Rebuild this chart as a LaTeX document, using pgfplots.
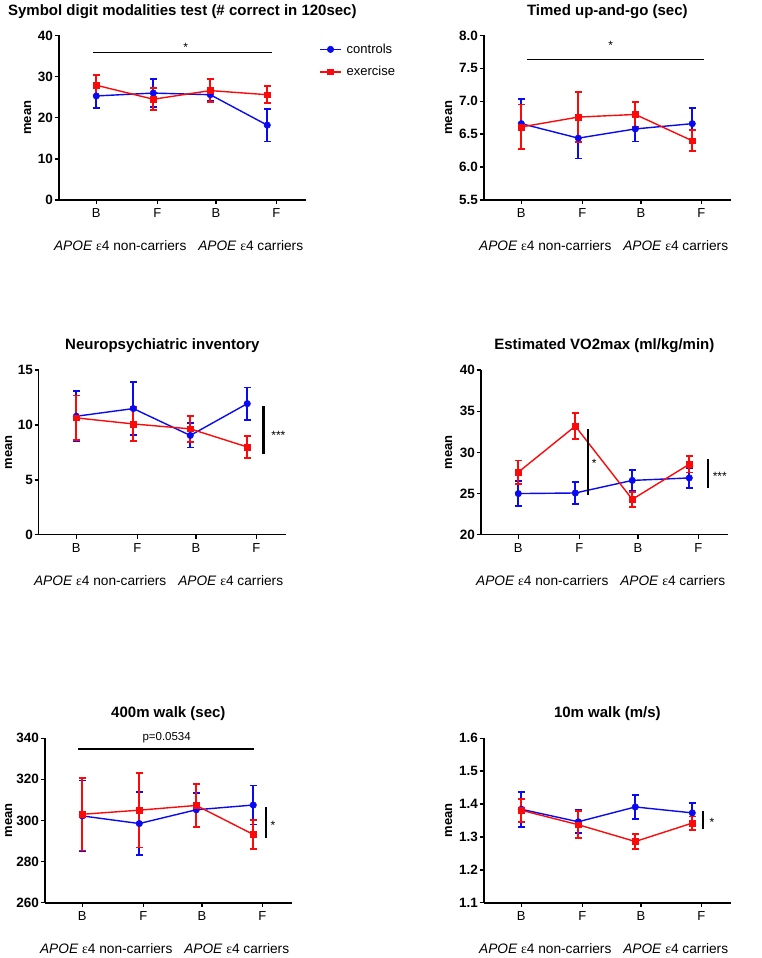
\documentclass[border=0pt]{standalone}
\usepackage{fontspec}
\setmainfont{Liberation Sans}
\newfontfamily\grk{Liberation Serif}
\usepackage{pgfplots}
\pgfplotsset{compat=1.18}

\definecolor{ctrl}{RGB}{10,10,240}
\definecolor{exer}{RGB}{250,10,10}

\pgfplotsset{
  panel/.style={
    scale only axis, width=247.3pt, height=164.5pt, anchor=south west,
    axis lines*=left, axis line style={line width=1.6pt},
    xmin=-0.66, xmax=3.68,
    xtick={0,1.07,2.10,3.16}, xticklabels={B,F,B,F},
    x tick label style={font=\fontsize{13}{15}\selectfont, yshift=-1.5pt},
    y tick label style={font=\bfseries\fontsize{13.5}{15}\selectfont, inner sep=1.5pt},
    tick align=outside, major tick length=4pt,
    tick style={line width=1.4pt, black},
    ylabel=mean,
    ylabel style={font=\bfseries\fontsize{13}{15}\selectfont, anchor=center},
    title style={font=\bfseries\fontsize{15}{18}\selectfont, at={(0.5,1)}, anchor=base, yshift=14.3pt},
    clip=false, scaled y ticks=false,
    /pgf/number format/assume math mode=true,
    after end axis/.append code={
      \node[font=\fontsize{13.7}{16}\selectfont, yshift=-45.5pt] at ({axis cs:0.42,0}|-{rel axis cs:0,0}) {\textit{APOE} {\grk ε}4 non-carriers};
      \node[font=\fontsize{13.7}{16}\selectfont, yshift=-45.5pt] at ({axis cs:2.71,0}|-{rel axis cs:0,0}) {\textit{APOE} {\grk ε}4 carriers};
    },
  },
  ctrlplot/.style={color=ctrl, line width=1.4pt, mark=*, mark size=3.2pt,
    mark options={solid, fill=ctrl, line width=0.6pt},
    error bars/y dir=both, error bars/y explicit,
    error bars/error bar style={line width=1.8pt, color=ctrl},
    error bars/error mark options={rotate=90, line width=1.8pt, mark size=3.3pt, color=ctrl}},
  exerplot/.style={color=exer, line width=1.4pt, mark=square*, mark size=2.9pt,
    mark options={solid, fill=exer, line width=0.6pt},
    error bars/y dir=both, error bars/y explicit,
    error bars/error bar style={line width=1.8pt, color=exer},
    error bars/error mark options={rotate=90, line width=1.8pt, mark size=3.3pt, color=exer}},
  sig/.style={black, line width=2.2pt, no marks, forget plot},
}

\begin{document}
\begin{tikzpicture}
\path[use as bounding box] (0,0) rectangle (762pt,958pt);

% Symbol digit modalities
\begin{axis}[panel, at={(58.7pt,758pt)},
  ymin=0, ymax=40, ytick={0,10,20,30,40},
  title={Symbol digit modalities test (\# correct in 120sec)},
  ylabel style={at={(axis description cs:-0.125,0.5)}},
  legend style={at={(1.053,0.962)}, anchor=north west, draw=none, fill=none,
    font=\fontsize{13}{15}\selectfont, inner sep=0pt, row sep=7.5pt,
    nodes={inner sep=2pt},
    /tikz/every odd column/.append style={column sep=3pt}},
  legend cell align=left,
  legend image code/.code={\draw[mark repeat=2,mark phase=2] plot coordinates {(0pt,0pt)(10.5pt,0pt)(21pt,0pt)};},
]
\addplot[ctrlplot] coordinates {(0,25.3) +- (0,3.0) (1,26.0) +- (0,3.4) (2,25.6) +- (0,1.6) (3,18.2) +- (0,4.0)};
\addlegendentry{controls}
\addplot[exerplot] coordinates {(0,27.9) +- (0,2.5) (1,24.5) +- (0,2.7) (2,26.6) +- (0,2.8) (3,25.6) +- (0,2.1)};
\addlegendentry{exercise}
\addplot[sig, line width=1.7pt] coordinates {(-0.05,35.9) (3.08,35.9)};
\node[anchor=base, font=\fontsize{12}{14}\selectfont, yshift=1pt] at (axis cs:1.57,35.9) {*};
\end{axis}

% Timed up-and-go
\begin{axis}[panel, at={(483.7pt,758pt)},
  ymin=5.5, ymax=8.0, ytick={5.5,6.0,6.5,7.0,7.5,8.0},
  yticklabel style={/pgf/number format/fixed, /pgf/number format/fixed zerofill, /pgf/number format/precision=1},
  title={Timed up-and-go (sec)},
  ylabel style={at={(axis description cs:-0.1415,0.5)}},
]
\addplot[ctrlplot] coordinates {(0,6.66) +- (0,0.38) (1,6.44) +- (0,0.31) (2,6.58) +- (0,0.19) (3,6.66) +- (0,0.24)};
\addplot[exerplot] coordinates {(0,6.61) +- (0,0.34) (1,6.76) +- (0,0.38) (2,6.80) +- (0,0.19) (3,6.40) +- (0,0.16)};
\addplot[sig, line width=1.5pt] coordinates {(0.105,7.636) (3.2,7.636)};
\node[anchor=base, font=\fontsize{12}{14}\selectfont] at (axis cs:1.57,7.79) {*};
\end{axis}

% Neuropsychiatric inventory
\begin{axis}[panel, at={(38.7pt,423.3pt)},
  ymin=0, ymax=15, ytick={0,5,10,15},
  title={Neuropsychiatric inventory},
  ylabel style={at={(axis description cs:-0.1213,0.5)}},
]
\addplot[ctrlplot] coordinates {(0,10.8) +- (0,2.3) (1,11.5) +- (0,2.4) (2,9.05) +- (0,1.1) (3,11.95) +- (0,1.47)};
\addplot[exerplot] coordinates {(0,10.65) +- (0,2.05) (1,10.1) +- (0,1.55) (2,9.65) +- (0,1.2) (3,8.0) +- (0,1.03)};
\addplot[sig] coordinates {(3.286,7.39) (3.286,11.71)};
\node[anchor=base west, font=\fontsize{12}{14}\selectfont, inner sep=0pt] at (axis cs:3.42,8.69) {***};
\end{axis}

% Estimated VO2max
\begin{axis}[panel, at={(480.7pt,423.3pt)},
  ymin=20, ymax=40, ytick={20,25,30,35,40},
  title={Estimated VO2max (ml/kg/min)},
  ylabel style={at={(axis description cs:-0.1294,0.5)}},
]
\addplot[ctrlplot] coordinates {(0,25.0) +- (0,1.55) (1,25.07) +- (0,1.3) (2,26.6) +- (0,1.3) (3,26.9) +- (0,1.22)};
\addplot[exerplot] coordinates {(0,27.6) +- (0,1.42) (1,33.2) +- (0,1.56) (2,24.3) +- (0,0.9) (3,28.56) +- (0,1.0)};
\addplot[sig] coordinates {(1.216,24.87) (1.216,32.9)};
\addplot[sig] coordinates {(3.33,25.68) (3.33,29.25)};
\node[anchor=base, font=\fontsize{12}{14}\selectfont] at (axis cs:1.33,28.2) {*};
\node[anchor=base west, font=\fontsize{12}{14}\selectfont, inner sep=0pt] at (axis cs:3.41,26.57) {***};
\end{axis}

% 400m walk
\begin{axis}[panel, at={(44.7pt,55.3pt)},
  ymin=260, ymax=340, ytick={260,280,300,320,340},
  title={400m walk (sec)},
  ylabel style={at={(axis description cs:-0.1456,0.5)}},
]
\addplot[ctrlplot] coordinates {(0,302.2) +- (0,17.2) (1,298.5) +- (0,15.4) (2,305.2) +- (0,8.2) (3,307.5) +- (0,9.5)};
\addplot[exerplot] coordinates {(0,303.0) +- (0,17.6) (1,305.0) +- (0,18.2) (2,307.3) +- (0,10.3) (3,293.2) +- (0,7.0)};
\addplot[sig] coordinates {(-0.08,334.6) (3.02,334.6)};
\addplot[sig] coordinates {(3.23,291.3) (3.23,306.4)};
\node[anchor=base, font=\fontsize{11.5}{14}\selectfont] at (axis cs:1.48,338.7) {p=0.0534};
\node[anchor=base west, font=\fontsize{12}{14}\selectfont, inner sep=0pt] at (axis cs:3.30,295.7) {*};
\end{axis}

% 10m walk
\begin{axis}[panel, at={(483.7pt,55.3pt)},
  ymin=1.1, ymax=1.6, ytick={1.1,1.2,1.3,1.4,1.5,1.6},
  yticklabel style={/pgf/number format/fixed, /pgf/number format/fixed zerofill, /pgf/number format/precision=1},
  title={10m walk (m/s)},
  ylabel style={at={(axis description cs:-0.1415,0.5)}},
]
\addplot[ctrlplot] coordinates {(0,1.384) +- (0,0.053) (1,1.346) +- (0,0.035) (2,1.391) +- (0,0.037) (3,1.373) +- (0,0.03)};
\addplot[exerplot] coordinates {(0,1.381) +- (0,0.035) (1,1.337) +- (0,0.041) (2,1.286) +- (0,0.023) (3,1.342) +- (0,0.02)};
\addplot[sig] coordinates {(3.19,1.325) (3.19,1.378)};
\node[anchor=base west, font=\fontsize{12}{14}\selectfont, inner sep=0pt] at (axis cs:3.30,1.331) {*};
\end{axis}
\end{tikzpicture}
\end{document}
